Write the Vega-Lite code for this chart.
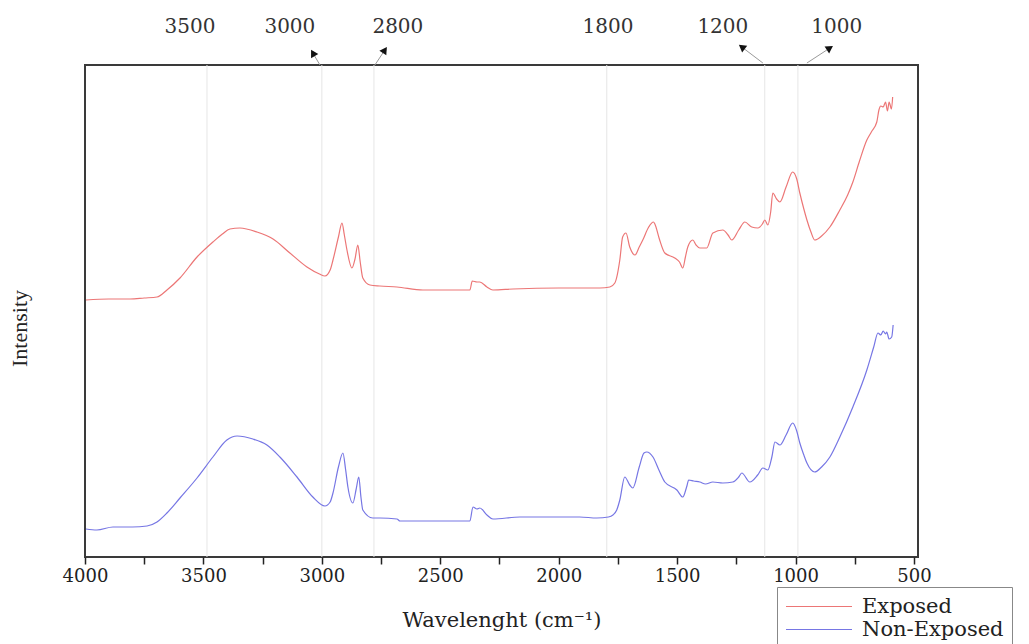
{
  "$schema": "https://vega.github.io/schema/vega-lite/v6.json",
  "width": 833,
  "height": 492,
  "autosize": {"type": "none"},
  "padding": {"left": 85, "top": 65, "right": 111, "bottom": 87},
  "background": "white",
  "encoding": {
    "x": {
      "field": "wn",
      "type": "quantitative",
      "title": "Wavelenght (cm⁻¹)",
      "scale": {"domain": [4000, 483], "nice": false, "zero": false},
      "axis": {
        "values": [4000, 3750, 3500, 3250, 3000, 2750, 2500, 2250, 2000, 1750, 1500, 1250, 1000, 750, 500],
        "format": "d",
        "labelExpr": "datum.value % 500 === 0 ? datum.label : ''"
      }
    }
  },
  "layer": [
    {
      "data": {"values": [{"wn": 3485}, {"wn": 3000}, {"wn": 2780}, {"wn": 1797}, {"wn": 1130}, {"wn": 990}]},
      "mark": {"type": "rule", "color": "#e6e6e6", "strokeWidth": 1},
      "encoding": {}
    },
    {
      "data": {"values": [
        {"s":"Exposed","wn":3996,"v":257},{"s":"Exposed","wn":3900,"v":258},{"s":"Exposed","wn":3810,"v":258},{"s":"Exposed","wn":3750,"v":259},{"s":"Exposed","wn":3696,"v":260},{"s":"Exposed","wn":3654,"v":267},{"s":"Exposed","wn":3599,"v":279},{"s":"Exposed","wn":3527,"v":300},{"s":"Exposed","wn":3460,"v":315},{"s":"Exposed","wn":3420,"v":323},{"s":"Exposed","wn":3388,"v":328},{"s":"Exposed","wn":3346,"v":329},{"s":"Exposed","wn":3274,"v":325},{"s":"Exposed","wn":3206,"v":318},{"s":"Exposed","wn":3135,"v":304},{"s":"Exposed","wn":3063,"v":290},{"s":"Exposed","wn":3010,"v":283},{"s":"Exposed","wn":2987,"v":281},{"s":"Exposed","wn":2965,"v":287},{"s":"Exposed","wn":2953,"v":297},{"s":"Exposed","wn":2930,"v":320},{"s":"Exposed","wn":2915,"v":334},{"s":"Exposed","wn":2905,"v":322},{"s":"Exposed","wn":2894,"v":307},{"s":"Exposed","wn":2873,"v":289},{"s":"Exposed","wn":2860,"v":298},{"s":"Exposed","wn":2848,"v":312},{"s":"Exposed","wn":2838,"v":295},{"s":"Exposed","wn":2827,"v":279},{"s":"Exposed","wn":2797,"v":272},{"s":"Exposed","wn":2755,"v":271},{"s":"Exposed","wn":2683,"v":270},{"s":"Exposed","wn":2573,"v":267},{"s":"Exposed","wn":2400,"v":267},{"s":"Exposed","wn":2375,"v":267},{"s":"Exposed","wn":2365,"v":276},{"s":"Exposed","wn":2345,"v":275},{"s":"Exposed","wn":2333,"v":275},{"s":"Exposed","wn":2303,"v":270},{"s":"Exposed","wn":2278,"v":267},{"s":"Exposed","wn":2193,"v":268},{"s":"Exposed","wn":2000,"v":269},{"s":"Exposed","wn":1911,"v":269},{"s":"Exposed","wn":1826,"v":269},{"s":"Exposed","wn":1784,"v":270},{"s":"Exposed","wn":1763,"v":274},{"s":"Exposed","wn":1742,"v":297},{"s":"Exposed","wn":1730,"v":320},{"s":"Exposed","wn":1716,"v":324},{"s":"Exposed","wn":1700,"v":310},{"s":"Exposed","wn":1678,"v":302},{"s":"Exposed","wn":1660,"v":310},{"s":"Exposed","wn":1645,"v":317},{"s":"Exposed","wn":1620,"v":330},{"s":"Exposed","wn":1600,"v":335},{"s":"Exposed","wn":1594,"v":333},{"s":"Exposed","wn":1575,"v":318},{"s":"Exposed","wn":1552,"v":304},{"s":"Exposed","wn":1510,"v":299},{"s":"Exposed","wn":1490,"v":295},{"s":"Exposed","wn":1476,"v":289},{"s":"Exposed","wn":1465,"v":300},{"s":"Exposed","wn":1455,"v":310},{"s":"Exposed","wn":1434,"v":317},{"s":"Exposed","wn":1420,"v":312},{"s":"Exposed","wn":1404,"v":309},{"s":"Exposed","wn":1375,"v":309},{"s":"Exposed","wn":1349,"v":324},{"s":"Exposed","wn":1307,"v":327},{"s":"Exposed","wn":1285,"v":322},{"s":"Exposed","wn":1269,"v":317},{"s":"Exposed","wn":1240,"v":327},{"s":"Exposed","wn":1214,"v":335},{"s":"Exposed","wn":1185,"v":330},{"s":"Exposed","wn":1159,"v":329},{"s":"Exposed","wn":1140,"v":333},{"s":"Exposed","wn":1130,"v":337},{"s":"Exposed","wn":1117,"v":332},{"s":"Exposed","wn":1105,"v":345},{"s":"Exposed","wn":1096,"v":364},{"s":"Exposed","wn":1080,"v":358},{"s":"Exposed","wn":1066,"v":355},{"s":"Exposed","wn":1040,"v":370},{"s":"Exposed","wn":1012,"v":385},{"s":"Exposed","wn":995,"v":378},{"s":"Exposed","wn":982,"v":364},{"s":"Exposed","wn":965,"v":348},{"s":"Exposed","wn":952,"v":337},{"s":"Exposed","wn":935,"v":325},{"s":"Exposed","wn":919,"v":317},{"s":"Exposed","wn":890,"v":321},{"s":"Exposed","wn":855,"v":330},{"s":"Exposed","wn":813,"v":347},{"s":"Exposed","wn":780,"v":362},{"s":"Exposed","wn":758,"v":375},{"s":"Exposed","wn":730,"v":396},{"s":"Exposed","wn":699,"v":417},{"s":"Exposed","wn":680,"v":425},{"s":"Exposed","wn":657,"v":435},{"s":"Exposed","wn":648,"v":447},{"s":"Exposed","wn":640,"v":451},{"s":"Exposed","wn":630,"v":450},{"s":"Exposed","wn":620,"v":455},{"s":"Exposed","wn":612,"v":446},{"s":"Exposed","wn":605,"v":455},{"s":"Exposed","wn":595,"v":448},{"s":"Exposed","wn":590,"v":460},
        {"s":"Non-Exposed","wn":3996,"v":28},{"s":"Non-Exposed","wn":3950,"v":27},{"s":"Non-Exposed","wn":3882,"v":30},{"s":"Non-Exposed","wn":3800,"v":30},{"s":"Non-Exposed","wn":3738,"v":31},{"s":"Non-Exposed","wn":3696,"v":35},{"s":"Non-Exposed","wn":3654,"v":44},{"s":"Non-Exposed","wn":3599,"v":59},{"s":"Non-Exposed","wn":3527,"v":79},{"s":"Non-Exposed","wn":3460,"v":100},{"s":"Non-Exposed","wn":3401,"v":117},{"s":"Non-Exposed","wn":3358,"v":121},{"s":"Non-Exposed","wn":3291,"v":118},{"s":"Non-Exposed","wn":3232,"v":112},{"s":"Non-Exposed","wn":3177,"v":100},{"s":"Non-Exposed","wn":3105,"v":80},{"s":"Non-Exposed","wn":3038,"v":60},{"s":"Non-Exposed","wn":2987,"v":51},{"s":"Non-Exposed","wn":2965,"v":55},{"s":"Non-Exposed","wn":2953,"v":64},{"s":"Non-Exposed","wn":2930,"v":90},{"s":"Non-Exposed","wn":2911,"v":104},{"s":"Non-Exposed","wn":2900,"v":88},{"s":"Non-Exposed","wn":2890,"v":70},{"s":"Non-Exposed","wn":2869,"v":54},{"s":"Non-Exposed","wn":2855,"v":68},{"s":"Non-Exposed","wn":2844,"v":80},{"s":"Non-Exposed","wn":2835,"v":60},{"s":"Non-Exposed","wn":2827,"v":47},{"s":"Non-Exposed","wn":2785,"v":39},{"s":"Non-Exposed","wn":2755,"v":39},{"s":"Non-Exposed","wn":2683,"v":38},{"s":"Non-Exposed","wn":2670,"v":36},{"s":"Non-Exposed","wn":2500,"v":36},{"s":"Non-Exposed","wn":2375,"v":36},{"s":"Non-Exposed","wn":2362,"v":50},{"s":"Non-Exposed","wn":2345,"v":48},{"s":"Non-Exposed","wn":2333,"v":49},{"s":"Non-Exposed","wn":2303,"v":42},{"s":"Non-Exposed","wn":2278,"v":38},{"s":"Non-Exposed","wn":2164,"v":40},{"s":"Non-Exposed","wn":1911,"v":40},{"s":"Non-Exposed","wn":1839,"v":39},{"s":"Non-Exposed","wn":1790,"v":40},{"s":"Non-Exposed","wn":1771,"v":42},{"s":"Non-Exposed","wn":1755,"v":47},{"s":"Non-Exposed","wn":1742,"v":57},{"s":"Non-Exposed","wn":1721,"v":80},{"s":"Non-Exposed","wn":1700,"v":72},{"s":"Non-Exposed","wn":1687,"v":69},{"s":"Non-Exposed","wn":1660,"v":90},{"s":"Non-Exposed","wn":1640,"v":104},{"s":"Non-Exposed","wn":1628,"v":105},{"s":"Non-Exposed","wn":1602,"v":100},{"s":"Non-Exposed","wn":1575,"v":86},{"s":"Non-Exposed","wn":1552,"v":75},{"s":"Non-Exposed","wn":1501,"v":67},{"s":"Non-Exposed","wn":1476,"v":60},{"s":"Non-Exposed","wn":1460,"v":70},{"s":"Non-Exposed","wn":1451,"v":77},{"s":"Non-Exposed","wn":1430,"v":76},{"s":"Non-Exposed","wn":1404,"v":75},{"s":"Non-Exposed","wn":1380,"v":73},{"s":"Non-Exposed","wn":1349,"v":75},{"s":"Non-Exposed","wn":1307,"v":74},{"s":"Non-Exposed","wn":1265,"v":75},{"s":"Non-Exposed","wn":1240,"v":80},{"s":"Non-Exposed","wn":1227,"v":84},{"s":"Non-Exposed","wn":1193,"v":75},{"s":"Non-Exposed","wn":1160,"v":82},{"s":"Non-Exposed","wn":1138,"v":89},{"s":"Non-Exposed","wn":1117,"v":87},{"s":"Non-Exposed","wn":1100,"v":100},{"s":"Non-Exposed","wn":1087,"v":115},{"s":"Non-Exposed","wn":1066,"v":112},{"s":"Non-Exposed","wn":1040,"v":122},{"s":"Non-Exposed","wn":1012,"v":134},{"s":"Non-Exposed","wn":995,"v":126},{"s":"Non-Exposed","wn":982,"v":114},{"s":"Non-Exposed","wn":965,"v":102},{"s":"Non-Exposed","wn":952,"v":94},{"s":"Non-Exposed","wn":919,"v":85},{"s":"Non-Exposed","wn":890,"v":90},{"s":"Non-Exposed","wn":855,"v":100},{"s":"Non-Exposed","wn":813,"v":120},{"s":"Non-Exposed","wn":758,"v":150},{"s":"Non-Exposed","wn":699,"v":187},{"s":"Non-Exposed","wn":670,"v":210},{"s":"Non-Exposed","wn":652,"v":224},{"s":"Non-Exposed","wn":640,"v":222},{"s":"Non-Exposed","wn":630,"v":226},{"s":"Non-Exposed","wn":620,"v":223},{"s":"Non-Exposed","wn":615,"v":225},{"s":"Non-Exposed","wn":605,"v":218},{"s":"Non-Exposed","wn":594,"v":220},{"s":"Non-Exposed","wn":588,"v":232}
      ]},
      "mark": {"type": "line", "strokeWidth": 1.2, "interpolate": "monotone"},
      "encoding": {
        "y": {"field": "v", "type": "quantitative", "title": "Intensity", "scale": {"domain": [0, 492], "nice": false, "zero": false}},
        "color": {
          "field": "s",
          "type": "nominal",
          "scale": {"domain": ["Exposed", "Non-Exposed"], "range": ["#ec7676", "#7676e4"]},
          "legend": {"orient": "none", "legendX": 692, "legendY": 522, "title": null}
        },
        "order": {"field": "wn", "type": "quantitative", "sort": "descending"}
      }
    },
    {
      "data": {"values": [
        {"wn": 3008, "v": 492, "wn2": 3038, "v2": 504},
        {"wn": 2776, "v": 492, "wn2": 2734, "v2": 507},
        {"wn": 1138, "v": 494, "wn2": 1227, "v2": 510},
        {"wn": 952, "v": 494, "wn2": 855, "v2": 509}
      ]},
      "mark": {"type": "rule", "color": "#9a9a9a", "strokeWidth": 1},
      "encoding": {
        "x2": {"field": "wn2"},
        "y": {"field": "v", "type": "quantitative", "title": "Intensity"},
        "y2": {"field": "v2"}
      }
    },
    {
      "data": {"values": [
        {"wn": 3038, "v": 504, "ang": -30},
        {"wn": 2734, "v": 507, "ang": 34},
        {"wn": 1227, "v": 510, "ang": -53},
        {"wn": 855, "v": 509, "ang": 57}
      ]},
      "mark": {"type": "point", "shape": "triangle-up", "filled": true, "color": "#111", "size": 70, "opacity": 1},
      "encoding": {
        "y": {"field": "v", "type": "quantitative", "title": "Intensity"},
        "angle": {"field": "ang", "type": "quantitative", "scale": null}
      }
    },
    {
      "data": {"values": [
        {"wn": 3557, "v": 530, "lab": "3500"},
        {"wn": 3135, "v": 530, "lab": "3000"},
        {"wn": 2679, "v": 530, "lab": "2800"},
        {"wn": 1792, "v": 530, "lab": "1800"},
        {"wn": 1307, "v": 530, "lab": "1200"},
        {"wn": 826, "v": 530, "lab": "1000"}
      ]},
      "mark": {"type": "text", "font": "DejaVu Serif", "fontSize": 20, "color": "#333", "baseline": "middle", "align": "center"},
      "encoding": {
        "y": {"field": "v", "type": "quantitative", "title": "Intensity"},
        "text": {"field": "lab"}
      }
    }
  ],
  "config": {
    "view": {"stroke": "#3a3a3a", "strokeWidth": 2},
    "axisX": {
      "domain": false,
      "grid": false,
      "tickSize": 7,
      "tickWidth": 1.5,
      "tickColor": "#222",
      "labelFont": "DejaVu Serif",
      "labelFontSize": 18,
      "labelColor": "#222",
      "labelPadding": 3,
      "labelFlush": false,
      "labelOverlap": false,
      "titleFont": "DejaVu Serif",
      "titleFontSize": 21,
      "titleFontWeight": "normal",
      "titleColor": "#222",
      "titlePadding": 24
    },
    "axisY": {
      "domain": false,
      "grid": false,
      "ticks": false,
      "labels": false,
      "titleFont": "Liberation Serif",
      "titleFontSize": 22,
      "titleFontWeight": "normal",
      "titleColor": "#222",
      "titlePadding": 54,
      "titleY": 263
    },
    "legend": {
      "symbolType": "stroke",
      "symbolSize": 4356,
      "symbolStrokeWidth": 1.2,
      "clipHeight": 23,
      "labelOffset": 9,
      "labelFont": "DejaVu Serif",
      "labelFontSize": 21,
      "labelColor": "#222",
      "rowPadding": 0,
      "padding": 8,
      "strokeColor": "#888",
      "fillColor": "white",
      "cornerRadius": 0
    }
  }
}
